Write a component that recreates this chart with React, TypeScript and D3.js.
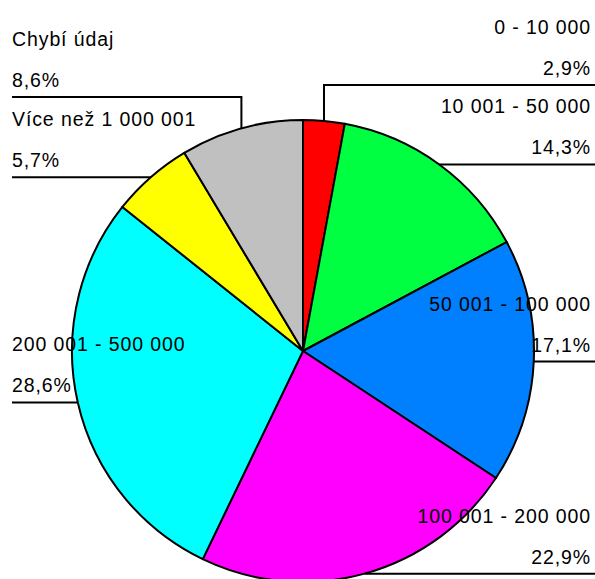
import React from "react";
import * as d3 from "d3";

const categories = [
  "0 - 10 000",
  "10 001 - 50 000",
  "50 001 - 100 000",
  "100 001 - 200 000",
  "200 001 - 500 000",
  "Více než 1 000 001",
  "Chybí údaj",
];
const values = [2.9, 14.3, 17.1, 22.9, 28.6, 5.7, 8.6];
const colors = ["#FF0000", "#00FF40", "#0080FF", "#FF00FF", "#00FFFF", "#FFFF00", "#C0C0C0"];

// layout: which side each label sits on, and optional leader-line heights
const sides = ["right", "right", "right", "right", "left", "left", "left"];
const leaderY: (number | null)[] = [85, null, null, null, null, null, 97];

const W = 595;
const H = 579;
const cx = 303;
const cy = 351;
const R = 231;
const fmt = (v: number) => v.toFixed(1).replace(".", ",") + "%";

export default function App() {
  const pie = d3.pie<number>().sort(null).value((d) => d);
  const arcs = pie(values);
  const arc = d3.arc<d3.PieArcDatum<number>>().innerRadius(0).outerRadius(R);

  return (
    <svg
      width={W}
      height={H}
      style={{ position: "absolute", left: 0, top: 0, background: "#fff" }}
      fontFamily="'Liberation Sans', Arial, sans-serif"
    >
      <g transform={`translate(${cx},${cy})`}>
        {arcs.map((a, i) => (
          <path key={i} d={arc(a) || ""} fill={colors[i]} stroke="#000" strokeWidth={2} strokeLinejoin="round" />
        ))}
      </g>
      {arcs.map((a, i) => {
        const mid = (a.startAngle + a.endAngle) / 2;
        const px = cx + R * Math.sin(mid);
        const py = cy - R * Math.cos(mid);
        const ly = leaderY[i] ?? py;
        const right = sides[i] === "right";
        const xEnd = right ? W : 12;
        const pts: [number, number][] = [[px, py]];
        if (Math.abs(ly - py) > 0.5) pts.push([px, ly]);
        pts.push([xEnd, ly]);
        const line = d3.line()(pts) || "";
        const tx = right ? 591 : 12;
        const anchor = right ? "end" : "start";
        return (
          <g key={i}>
            <path d={line} fill="none" stroke="#000" strokeWidth={2} />
            <text x={tx} y={ly - 51} textAnchor={anchor} fontSize={19.5} letterSpacing={0.9} fill="#000">
              {categories[i]}
            </text>
            <text x={tx} y={ly - 10} textAnchor={anchor} fontSize={19.5} letterSpacing={0.9} fill="#000">
              {fmt(values[i])}
            </text>
          </g>
        );
      })}
    </svg>
  );
}
